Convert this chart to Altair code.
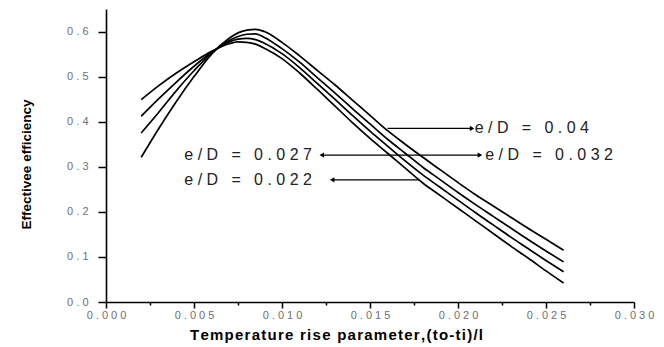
import altair as alt
import pandas as pd

# ---- data ----
x_vals = [0.002, 0.003, 0.004, 0.005, 0.006, 0.007, 0.0075, 0.008, 0.0085, 0.009,
          0.010, 0.011, 0.012, 0.013, 0.014, 0.015, 0.016, 0.017, 0.018, 0.019,
          0.020, 0.021, 0.022, 0.023, 0.024, 0.025, 0.026]
eff_022 = [0.449, 0.480, 0.508, 0.533, 0.556, 0.573, 0.577, 0.576, 0.572, 0.563,
           0.540, 0.508, 0.472, 0.435, 0.398, 0.363, 0.330, 0.297, 0.264, 0.236,
           0.208, 0.180, 0.152, 0.124, 0.097, 0.069, 0.042]
eff_027 = [0.412, 0.451, 0.488, 0.523, 0.554, 0.577, 0.583, 0.585, 0.582, 0.574,
           0.551, 0.520, 0.485, 0.450, 0.414, 0.379, 0.346, 0.313, 0.282, 0.254,
           0.226, 0.198, 0.171, 0.144, 0.118, 0.092, 0.067]
eff_032 = [0.375, 0.421, 0.469, 0.513, 0.552, 0.580, 0.589, 0.594, 0.595, 0.587,
           0.562, 0.532, 0.498, 0.464, 0.429, 0.395, 0.361, 0.330, 0.299, 0.271,
           0.243, 0.216, 0.190, 0.164, 0.138, 0.113, 0.089]
eff_04 = [0.321, 0.385, 0.445, 0.500, 0.550, 0.585, 0.597, 0.603, 0.605, 0.600,
          0.576, 0.546, 0.514, 0.482, 0.448, 0.414, 0.380, 0.350, 0.321, 0.293,
          0.265, 0.238, 0.213, 0.188, 0.163, 0.139, 0.115]
series_names = ["e/D = 0.022", "e/D = 0.027", "e/D = 0.032", "e/D = 0.04"]
series_vals = [eff_022, eff_027, eff_032, eff_04]

x_ticks = [round(i * 0.0025, 4) for i in range(13)]
y_ticks = [round(i * 0.05, 2) for i in range(14)]

x_title = "Temperature rise parameter,(to-ti)/l"
y_title = "Effectivee efficiency"

# annotation arrows (data coordinates)
arrow_x1 = [0.0160, 0.01226, 0.01285]
arrow_x2 = [0.0208, 0.02125, 0.0178]
arrow_y = [0.385, 0.326, 0.271]
head_x = [0.0208, 0.02125, 0.01226, 0.01285]
head_y = [0.385, 0.326, 0.326, 0.271]
head_shape = ["triangle-right", "triangle-right", "triangle-left", "triangle-left"]

lab_left_text = ["e/D = 0.04", "e/D = 0.032"]
lab_left_x = [0.02095, 0.02155]
lab_left_y = [0.385, 0.326]
lab_right_text = ["e/D = 0.027", "e/D = 0.022"]
lab_right_x = [0.0117, 0.0117]
lab_right_y = [0.326, 0.271]

NBSP = "\u00a0"
HAIR = "\u200a"


def spaced(s):
    # wide letter spacing as in the reference
    return NBSP.join(s.replace(" ", NBSP))


rows = []
for name, vals in zip(series_names, series_vals):
    for xv, yv in zip(x_vals, vals):
        rows.append({"x": xv, "eff": yv, "series": name})
df = pd.DataFrame(rows)

df_arrows = pd.DataFrame({"x": arrow_x1, "x2": arrow_x2, "y": arrow_y})
df_heads = pd.DataFrame({"x": head_x, "y": head_y, "shape": head_shape})
df_lab_l = pd.DataFrame({"x": lab_left_x, "y": lab_left_y,
                         "label": [spaced(t) for t in lab_left_text]})
df_lab_r = pd.DataFrame({"x": lab_right_x, "y": lab_right_y,
                         "label": [spaced(t) for t in lab_right_text]})

FONT = "Liberation Sans"
x_major = "abs(datum.value*200 - round(datum.value*200)) < 0.001"
y_major = "abs(datum.value*10 - round(datum.value*10)) < 0.001"

xscale = alt.Scale(domain=[0, 0.03], nice=False, zero=False)
yscale = alt.Scale(domain=[0, 0.65], nice=False, zero=False)

x_axis = alt.Axis(
    values=x_ticks,
    labelExpr=f"{x_major} ? join(split(format(datum.value, '.3f'), ''), ' ') : ''",
    tickSize={"condition": {"test": x_major, "value": 6}, "value": 3},
    tickColor="black", tickWidth=1.5,
    domainColor="black", domainWidth=1.6,
    labelColor="#707070", labelFont=FONT, labelFontSize=11, labelPadding=1,
    labelOverlap=False, labelFlush=False, labelBound=False,
    grid=False,
    title=HAIR.join(x_title),
    titleFont=FONT, titleFontSize=15, titleFontWeight="bold", titleColor="black",
    titleX=230, titleY=32, titleAlign="center", titleBaseline="middle",
)
y_axis = alt.Axis(
    values=y_ticks,
    labelExpr=f"{y_major} ? join(split(format(datum.value, '.1f'), ''), ' ') : ''",
    tickSize={"condition": {"test": y_major, "value": 8}, "value": 5},
    tickColor="black", tickWidth=1.5,
    domainColor="black", domainWidth=1.6,
    labelColor="#707070", labelFont=FONT, labelFontSize=11, labelPadding=10,
    labelOverlap=False, labelFlush=False, labelBound=False,
    grid=False,
    title=y_title,
    titleFont=FONT, titleFontSize=13.5, titleFontWeight="bold", titleColor="black",
    titleX=-80, titleY=155, titleAngle=-90, titleAlign="center", titleBaseline="middle",
)

lines = alt.Chart(df).mark_line(color="black", strokeWidth=1.7, interpolate="monotone").encode(
    x=alt.X("x:Q", scale=xscale, axis=x_axis),
    y=alt.Y("eff:Q", scale=yscale, axis=y_axis),
    detail="series:N",
)

arrows = alt.Chart(df_arrows).mark_rule(color="black", strokeWidth=1.3).encode(
    x=alt.X("x:Q", scale=xscale), x2="x2:Q", y=alt.Y("y:Q", scale=yscale)
)

heads = alt.Chart(df_heads).mark_point(filled=True, color="black", size=28, opacity=1).encode(
    x=alt.X("x:Q", scale=xscale), y=alt.Y("y:Q", scale=yscale),
    shape=alt.Shape("shape:N", scale=None),
)

text_l = alt.Chart(df_lab_l).mark_text(
    align="left", baseline="middle", font=FONT, fontSize=16, color="#222222"
).encode(x=alt.X("x:Q", scale=xscale), y=alt.Y("y:Q", scale=yscale), text="label:N")
text_r = alt.Chart(df_lab_r).mark_text(
    align="right", baseline="middle", font=FONT, fontSize=16, color="#222222"
).encode(x=alt.X("x:Q", scale=xscale), y=alt.Y("y:Q", scale=yscale), text="label:N")

chart = alt.layer(lines, arrows, heads, text_l, text_r).properties(
    width=528, height=293,
    padding={"left": 106, "top": 9, "right": 30, "bottom": 45},
    autosize=alt.AutoSizeParams(type="none"),
    background="white",
).configure_view(stroke=None)

chart.save("out.html", embed_options={"renderer": "svg", "actions": False})
